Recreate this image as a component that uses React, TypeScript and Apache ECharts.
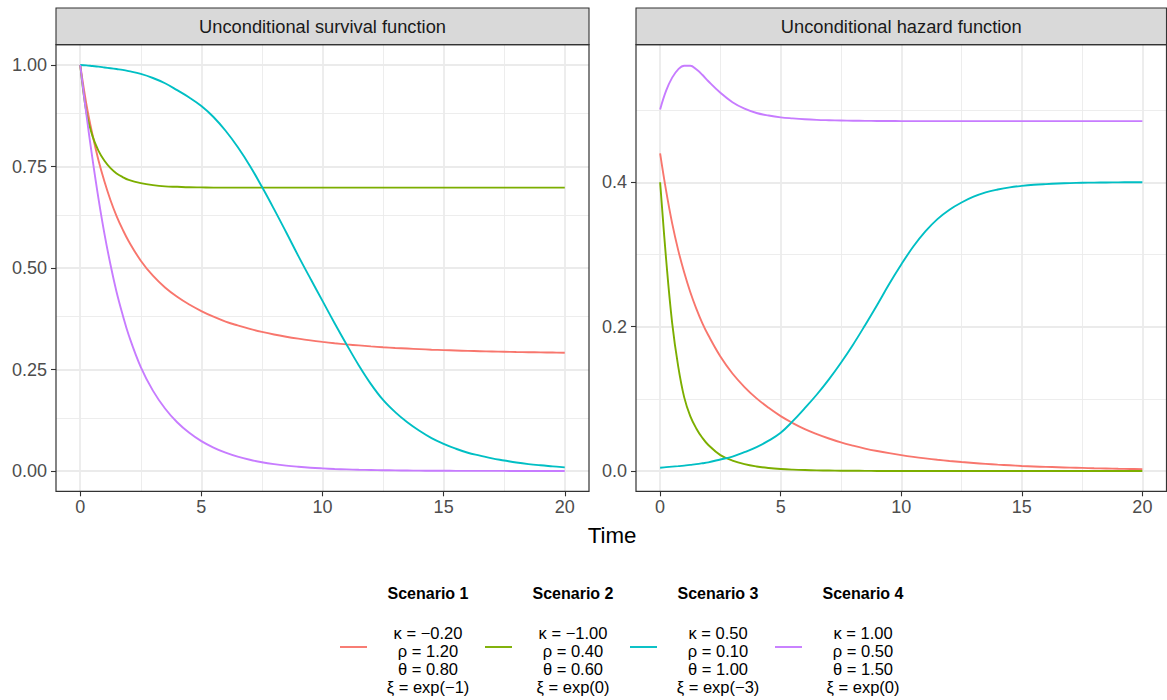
import React, { useEffect, useRef } from 'react';
import * as echarts from 'echarts';

const time = [0, 0.25, 0.5, 0.75, 1, 1.25, 1.5, 1.75, 2, 2.5, 3, 3.5, 4, 4.5, 5, 5.5, 6, 6.5, 7, 7.5, 8, 8.5, 9, 9.5, 10, 10.5, 11, 11.5, 12, 12.5, 13, 13.5, 14, 14.5, 15, 15.5, 16, 16.5, 17, 17.5, 18, 18.5, 19, 19.5, 20];

const survival1 = [1, 0.905, 0.83, 0.766, 0.713, 0.667, 0.628, 0.595, 0.566, 0.518, 0.481, 0.452, 0.429, 0.41, 0.394, 0.38, 0.368, 0.3586, 0.35, 0.3427, 0.3363, 0.3308, 0.326, 0.3217, 0.318, 0.3147, 0.3118, 0.3093, 0.3069, 0.3049, 0.3031, 0.3016, 0.3002, 0.2988, 0.2977, 0.2968, 0.2959, 0.2951, 0.2944, 0.2937, 0.2931, 0.2926, 0.2921, 0.2917, 0.2913];
const survival2 = [1, 0.885, 0.826, 0.789, 0.764, 0.746, 0.733, 0.724, 0.717, 0.709, 0.704, 0.701, 0.7, 0.699, 0.6985, 0.698, 0.698, 0.698, 0.698, 0.698, 0.698, 0.698, 0.698, 0.698, 0.698, 0.698, 0.698, 0.698, 0.698, 0.698, 0.698, 0.698, 0.698, 0.698, 0.698, 0.698, 0.698, 0.698, 0.698, 0.698, 0.698, 0.698, 0.698, 0.698, 0.698];
const survival3 = [1, 0.999, 0.9975, 0.996, 0.994, 0.992, 0.99, 0.988, 0.985, 0.978, 0.968, 0.955, 0.938, 0.92, 0.899, 0.872, 0.838, 0.798, 0.752, 0.7, 0.645, 0.588, 0.53, 0.474, 0.419, 0.364, 0.311, 0.26, 0.214, 0.175, 0.145, 0.12, 0.099, 0.081, 0.067, 0.055, 0.045, 0.038, 0.031, 0.026, 0.021, 0.017, 0.014, 0.0115, 0.009];
const survival4 = [1, 0.88, 0.771, 0.672, 0.584, 0.508, 0.441, 0.385, 0.335, 0.256, 0.198, 0.154, 0.12, 0.094, 0.0735, 0.0576, 0.045, 0.0352, 0.0276, 0.0216, 0.0169, 0.0132, 0.0104, 0.0081, 0.0064, 0.005, 0.0039, 0.003, 0.0024, 0.0019, 0.0015, 0.0012, 0.0009, 0.0007, 0.0006, 0.0004, 0.0003, 0.0003, 0.0002, 0.0002, 0.0001, 0.0001, 0.0001, 0.0001, 0.0001];

const hazard1 = [0.44, 0.388, 0.343, 0.306, 0.275, 0.248, 0.225, 0.205, 0.188, 0.1586, 0.1351, 0.1163, 0.1006, 0.0875, 0.076, 0.0664, 0.058, 0.0511, 0.045, 0.0396, 0.0351, 0.0311, 0.0277, 0.0247, 0.022, 0.0196, 0.0175, 0.0156, 0.0139, 0.0124, 0.0111, 0.0099, 0.0088, 0.0079, 0.007, 0.0063, 0.0057, 0.0052, 0.0047, 0.0043, 0.0038, 0.0035, 0.0031, 0.0028, 0.0026];
const hazard2 = [0.4, 0.293, 0.205, 0.145, 0.102, 0.076, 0.059, 0.046, 0.036, 0.022, 0.0145, 0.0095, 0.0063, 0.0042, 0.0028, 0.0019, 0.0013, 0.0009, 0.0006, 0.0004, 0.0003, 0.0002, 0.0001, 0.0001, 0, 0, 0, 0, 0, 0, 0, 0, 0, 0, 0, 0, 0, 0, 0, 0, 0, 0, 0, 0, 0];
const hazard3 = [0.0046, 0.0053, 0.006, 0.0067, 0.0075, 0.0085, 0.0095, 0.0107, 0.012, 0.016, 0.02, 0.026, 0.033, 0.042, 0.053, 0.069, 0.087, 0.106, 0.127, 0.15, 0.175, 0.202, 0.23, 0.259, 0.286, 0.311, 0.332, 0.349, 0.362, 0.372, 0.38, 0.386, 0.39, 0.393, 0.395, 0.3965, 0.3975, 0.3983, 0.3989, 0.3993, 0.3996, 0.3998, 0.3999, 0.4, 0.4];
const hazard4 = [0.501, 0.527, 0.545, 0.5565, 0.5615, 0.5615, 0.5565, 0.549, 0.54, 0.524, 0.511, 0.502, 0.496, 0.4925, 0.49, 0.4885, 0.4873, 0.4865, 0.486, 0.4856, 0.4853, 0.4851, 0.485, 0.4849, 0.4848, 0.4848, 0.4848, 0.4848, 0.4848, 0.4848, 0.4848, 0.4848, 0.4848, 0.4848, 0.4848, 0.4848, 0.4848, 0.4848, 0.4848, 0.4848, 0.4848, 0.4848, 0.4848, 0.4848, 0.4848];

const scenarioNames = ['Scenario 1', 'Scenario 2', 'Scenario 3', 'Scenario 4'];
const kappaLabels = ['κ = −0.20', 'κ = −1.00', 'κ = 0.50', 'κ = 1.00'];
const rhoLabels = ['ρ = 1.20', 'ρ = 0.40', 'ρ = 0.10', 'ρ = 0.50'];
const thetaLabels = ['θ = 0.80', 'θ = 0.60', 'θ = 1.00', 'θ = 1.50'];
const xiLabels = ['ξ = exp(−1)', 'ξ = exp(0)', 'ξ = exp(−3)', 'ξ = exp(0)'];
const colors = ['#F8766D', '#7CAE00', '#00BFC4', '#C77CFF'];
const panelTitles = ['Unconditional survival function', 'Unconditional hazard function'];
const xAxisTitle = 'Time';

const xTicks = [0, 5, 10, 15, 20];
const xMinor = [2.5, 7.5, 12.5, 17.5];
const survTicks = [0, 0.25, 0.5, 0.75, 1];
const survMinor = [0.125, 0.375, 0.625, 0.875];
const hazTicks = [0, 0.2, 0.4];
const hazMinor = [0.1, 0.3, 0.5];

const survivalSeries = [survival1, survival2, survival3, survival4];
const hazardSeries = [hazard1, hazard2, hazard3, hazard4];

const FONT = '"Liberation Sans", Arial, Helvetica, sans-serif';

export default function App() {
  const ref = useRef<HTMLDivElement>(null);

  useEffect(() => {
    if (!ref.current) return;
    const chart = echarts.init(ref.current, undefined, { renderer: 'svg' });

    const panels = [
      { left: 56, width: 533 },
      { left: 636, width: 530.5 },
    ];
    const top = 44.7;
    const height = 446.6;
    const stripTop = 8;

    const xRange = { min: -1, max: 21 };
    const survRange = { min: -0.05, max: 1.05 };
    const hazMax = 0.5625;
    const hazRange = { min: -0.05 * hazMax, max: hazMax * 1.05 };

    const minorStyle = { color: '#EBEBEB', width: 0.9, type: 'solid' };
    const majorStyle = { color: '#EBEBEB', width: 1.8, type: 'solid' };
    const gridLineData = (xMaj: number[], xMin: number[], yMaj: number[], yMin: number[]) => [
      ...xMin.map((v) => ({ xAxis: v, lineStyle: minorStyle })),
      ...yMin.map((v) => ({ yAxis: v, lineStyle: minorStyle })),
      ...xMaj.map((v) => ({ xAxis: v, lineStyle: majorStyle })),
      ...yMaj.map((v) => ({ yAxis: v, lineStyle: majorStyle })),
    ];

    const xAxisCfg = (gridIndex: number) => ({
      gridIndex,
      type: 'value',
      min: xRange.min,
      max: xRange.max,
      axisLine: { show: false, onZero: false },
      axisTick: { show: true, customValues: xTicks, length: 5, lineStyle: { color: '#333333', width: 1.1 } },
      axisLabel: { customValues: xTicks, color: '#4D4D4D', fontSize: 18, fontFamily: FONT, margin: 7 },
      splitLine: { show: false },
    });

    const yAxisCfg = (gridIndex: number, range: any, ticks: number[], digits: number) => ({
      gridIndex,
      type: 'value',
      min: range.min,
      max: range.max,
      axisLine: { show: false, onZero: false },
      axisTick: { show: true, customValues: ticks, length: 5, lineStyle: { color: '#333333', width: 1.1 } },
      axisLabel: {
        customValues: ticks,
        color: '#4D4D4D',
        fontSize: 18,
        fontFamily: FONT,
        margin: 9,
        formatter: (v: number) => v.toFixed(digits),
      },
      splitLine: { show: false },
    });

    const series: any[] = [];
    const gridHolder = (idx: number, first: number[], lines: any[]) => ({
      type: 'line',
      xAxisIndex: idx,
      yAxisIndex: idx,
      z: 1,
      data: [[time[0], first[0]]],
      showSymbol: false,
      lineStyle: { opacity: 0 },
      silent: true,
      markLine: {
        z: 1,
        silent: true,
        symbol: ['none', 'none'],
        label: { show: false },
        emphasis: { disabled: true },
        data: lines,
      },
    });
    series.push(gridHolder(0, survival1, gridLineData(xTicks, xMinor, survTicks, survMinor)));
    series.push(gridHolder(1, hazard1, gridLineData(xTicks, xMinor, hazTicks, hazMinor)));

    const addSeries = (list: number[][], idx: number) => {
      list.forEach((vals, i) => {
        series.push({
          name: scenarioNames[i],
          type: 'line',
          xAxisIndex: idx,
          yAxisIndex: idx,
          z: 3,
          smooth: 0.4,
          showSymbol: false,
          data: time.map((t, k) => [t, vals[k]]),
          lineStyle: { color: colors[i], width: 1.9 },
          itemStyle: { color: colors[i] },
        });
      });
    };
    addSeries(survivalSeries, 0);
    addSeries(hazardSeries, 1);

    const centerText = (x: number, y: number, text: string, size: number, fill: string, weight = 'normal') => ({
      type: 'text',
      x,
      y,
      style: {
        text,
        fill,
        fontSize: size,
        fontWeight: weight,
        fontFamily: FONT,
        align: 'center',
        verticalAlign: 'middle',
        textAlign: 'center',
        textVerticalAlign: 'middle',
      },
      z: 11,
    });

    const graphics: any[] = [];
    panels.forEach((p, i) => {
      graphics.push({
        type: 'rect',
        shape: { x: p.left, y: stripTop, width: p.width, height: top - stripTop },
        style: { fill: '#D9D9D9', stroke: '#333333', lineWidth: 1.1 },
        z: 10,
      });
      graphics.push(centerText(p.left + p.width / 2, (stripTop + top) / 2, panelTitles[i], 18.3, '#1A1A1A'));
      graphics.push({
        type: 'rect',
        shape: { x: p.left, y: top, width: p.width, height },
        style: { fill: 'none', stroke: '#333333', lineWidth: 1.2 },
        z: 10,
        silent: true,
      });
    });

    graphics.push(centerText(612, 535, xAxisTitle, 22.3, '#000000'));

    const labelRows = [kappaLabels, rhoLabels, thetaLabels, xiLabels];
    const rowY = [633, 651, 669, 687];
    scenarioNames.forEach((name, i) => {
      const cx = 428 + 145 * i;
      const kx = 340 + 145 * i;
      graphics.push(centerText(cx, 593, name, 16, '#000000', 'bold'));
      graphics.push({
        type: 'line',
        shape: { x1: kx, y1: 647, x2: kx + 27, y2: 647 },
        style: { stroke: colors[i], lineWidth: 1.9 },
      });
      labelRows.forEach((row, r) => {
        graphics.push(centerText(cx, rowY[r], row[i], 16.5, '#000000'));
      });
    });

    chart.setOption({
      animation: false,
      backgroundColor: '#FFFFFF',
      tooltip: { show: false },
      grid: panels.map((p) => ({
        left: p.left,
        top,
        width: p.width,
        height,
        show: true,
        backgroundColor: '#FFFFFF',
        borderWidth: 0,
        containLabel: false,
      })),
      xAxis: [xAxisCfg(0), xAxisCfg(1)],
      yAxis: [yAxisCfg(0, survRange, survTicks, 2), yAxisCfg(1, hazRange, hazTicks, 1)],
      series,
      graphic: { elements: graphics },
    });

    return () => {
      chart.dispose();
    };
  }, []);

  return (
    <div style={{ position: 'fixed', left: 0, top: 0, width: 1167, height: 700, background: '#FFFFFF' }}>
      <div ref={ref} style={{ width: 1167, height: 700 }} />
    </div>
  );
}
